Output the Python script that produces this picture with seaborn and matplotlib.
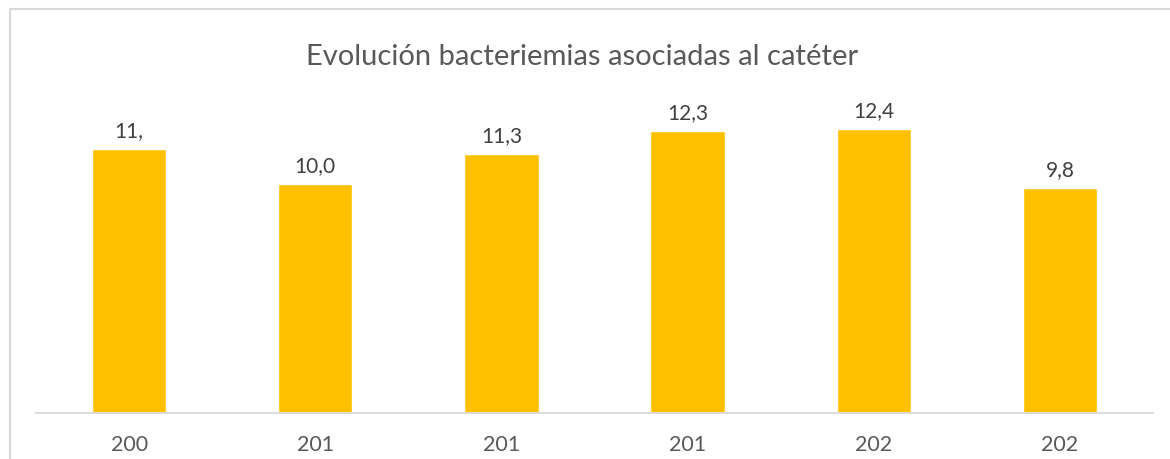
import matplotlib
matplotlib.use("Agg")
import matplotlib.pyplot as plt
import seaborn as sns
import pandas as pd
from matplotlib.patches import Rectangle

# Data
categories = ["c1", "c2", "c3", "c4", "c5", "c6"]
tick_labels = ["200", "201", "201", "201", "202", "202"]
values = [11.5, 10.0, 11.3, 12.3, 12.4, 9.8]
value_labels = ["11,", "10,0", "11,3", "12,3", "12,4", "9,8"]
title = "Evolución bacteriemias asociadas al catéter"

sns.set_theme(style="white")
plt.rcParams['font.family'] = ['Lato', 'DejaVu Sans']

W, H = 1170, 459
fig = plt.figure(figsize=(W / 100, H / 100), dpi=100)
fig.patch.set_facecolor("white")

base_px = 413
scale = 22.93
ymax = 14
left, right = 36, 1153
ax = fig.add_axes([left / W, (H - base_px) / H, (right - left) / W, ymax * scale / H])

df = pd.DataFrame({"cat": categories, "val": values})
sns.barplot(data=df, x="cat", y="val", order=categories, color="#FFC000",
            saturation=1, width=0.4, ax=ax)
ax.set_xlim(-0.5, len(categories) - 0.5)
ax.set_ylim(0, ymax)

for i, (v, lab) in enumerate(zip(values, value_labels)):
    ax.annotate(lab, (i, v), xytext=(0, 8), textcoords="offset pixels",
                ha="center", va="bottom", fontsize=15, color="#404040")

ax.set_xticks(range(len(categories)))
ax.set_xticklabels(tick_labels, fontsize=15.5, color="#595959")
ax.tick_params(axis="x", length=0, pad=16)
ax.set_yticks([])
ax.set_xlabel("")
ax.set_ylabel("")
for s in ["top", "left", "right"]:
    ax.spines[s].set_visible(False)
ax.spines["bottom"].set_color("#d9d9d9")
ax.spines["bottom"].set_linewidth(1.3)

fig.text(582 / W, 1 - 57 / H, title, ha="center", va="center",
         fontsize=21, color="#595959")

# chart frame
fig.patches.append(Rectangle((10 / W, -0.1), 1.2, 1 - 9 / H + 0.1,
                             transform=fig.transFigure, fill=False,
                             edgecolor="#d9d9d9", linewidth=1.5, zorder=0))

fig.savefig("out.png", dpi=100, facecolor="white")
